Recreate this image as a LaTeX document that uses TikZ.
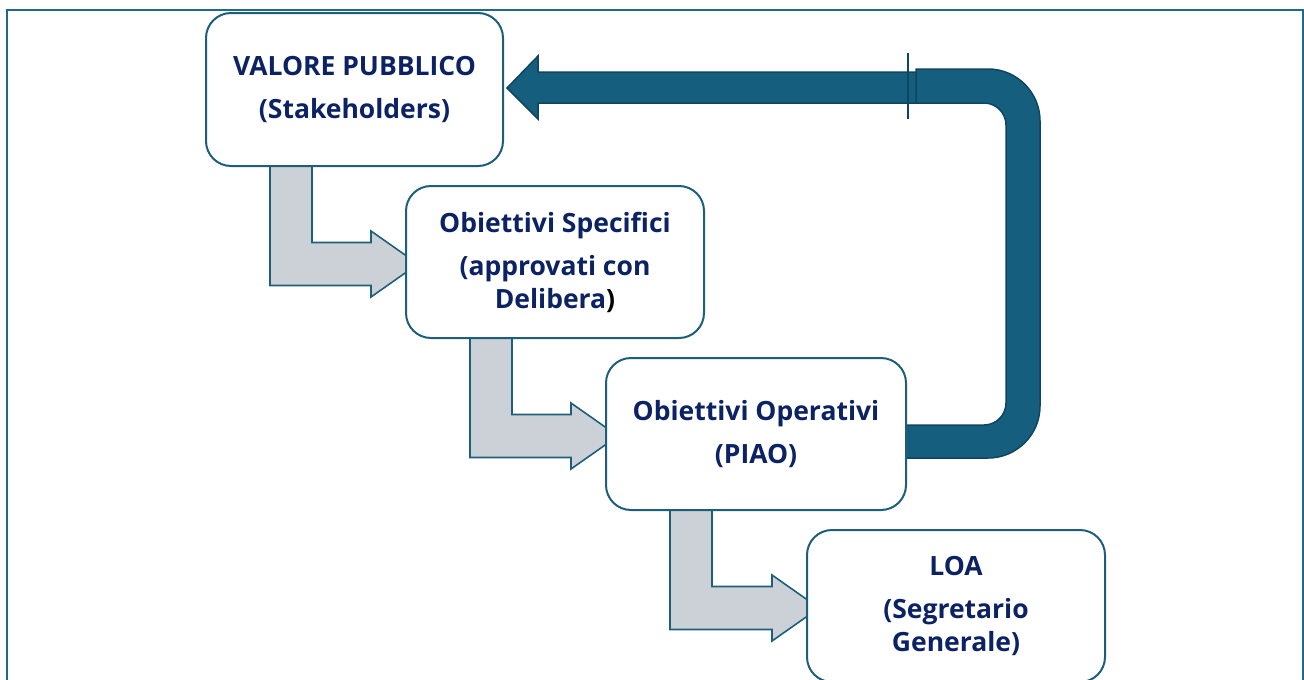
\documentclass[tikz,border=0pt]{standalone}
\usepackage{fontspec}
\setmainfont{Open Sans}
\usetikzlibrary{calc}
\pgfdeclarelayer{background}
\pgfsetlayers{background,main}
\definecolor{frameC}{HTML}{1F6A88}
\definecolor{boxC}{HTML}{1D5F7B}
\definecolor{grayF}{HTML}{CCD1D8}
\definecolor{darkF}{HTML}{165E7E}
\definecolor{darkS}{HTML}{0E4560}
\definecolor{txtC}{HTML}{0B2265}
\tikzset{
  stagebox/.style={draw=boxC, line width=2pt, fill=white, rounded corners=25pt,
    align=center, text=txtC, font=\fontsize{26.5}{33}\selectfont\bfseries,
    inner sep=0pt},
  grayarr/.style={draw=boxC, line width=1.6pt, fill=grayF, line join=miter},
  darkarr/.style={draw=darkS, line width=1.5pt, fill=darkF, line join=miter},
}
\newcommand\bentarrow[2]{%
  \path (#1.south west) ++(65,0) coordinate (p1) ++(42,0) coordinate (p2);
  \path (#2.west) ++(-34,2) coordinate (hc);
  \draw[grayarr] ($(p1)+(0,-3)$) -- ($(p1|-hc)+(0,21.5)$) -- ($(hc)+(0,21.5)$)
    -- ($(hc)+(0,33)$) -- ($(hc)+(47,0)$) -- ($(hc)+(0,-33)$)
    -- ($(hc)+(0,-21.5)$) -- ($(p2|-hc)+(0,-21.5)$) -- ($(p2)+(0,-3)$) -- cycle;
}
\begin{document}
\begin{tikzpicture}[x=1pt,y=-1pt]
\useasboundingbox (0,0) rectangle (1304,680);
\draw[frameC, line width=2pt] (7,700) -- (7,10) -- (1303,10) -- (1303,700);

% dark feedback arrow (right part), leaving b3
\draw[darkarr] (906,425) -- (984,425) .. controls (996.1,425) and (1006,415.1) .. (1006,403)
  -- (1006,125) .. controls (1006,112.9) and (996.1,103) .. (984,103)
  -- (916,103) -- (916,69) -- (988,69)
  .. controls (1016.7,69) and (1040,92.3) .. (1040,121)
  -- (1040,406) .. controls (1040,434.7) and (1016.7,458) .. (988,458)
  -- (906,458) -- cycle;

% nodes
\node[stagebox, minimum width=297pt, minimum height=153pt] (b1) at (354.5,89.5)
  {VALORE PUBBLICO\\[10pt](Stakeholders)};
\node[stagebox, minimum width=298pt, minimum height=152pt] (b2) at (555,262)
  {Obiettivi Specifici\\[10pt](approvati con\\Delibera{\color{black})}};
\node[stagebox, minimum width=300pt, minimum height=152pt] (b3) at (756,434)
  {Obiettivi Operativi\\[10pt](PIAO)};
\node[stagebox, minimum width=298pt, minimum height=152pt] (b4) at (956,606)
  {LOA\\[10pt](Segretario\\Generale)};

% left part of dark arrow, pointing at b1
\coordinate (tip) at ($(b1.east)+(3,-1.5)$);
\draw[darkarr] (916,72) -- (538,72) -- (538,56) -- (tip) -- (538,119) -- (538,103)
  -- (916,103) -- cycle;
\draw[darkS, line width=2pt] (908,53) -- (908,119);

% gray bent arrows, behind the boxes
\begin{pgfonlayer}{background}
\bentarrow{b1}{b2}
\bentarrow{b2}{b3}
\bentarrow{b3}{b4}
\end{pgfonlayer}
\end{tikzpicture}
\end{document}
